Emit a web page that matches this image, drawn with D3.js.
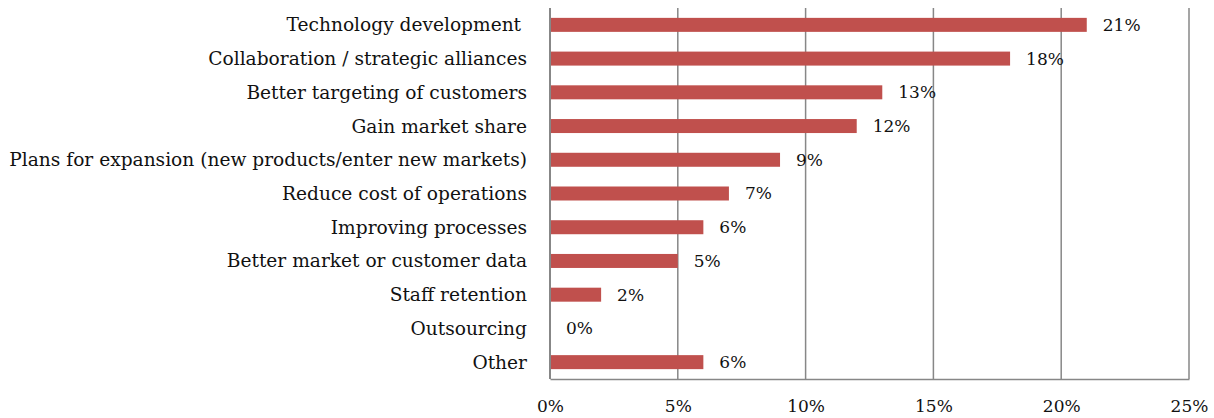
<!DOCTYPE html>
<html>
<head>
<meta charset="utf-8">
<script src="https://cdn.jsdelivr.net/npm/d3@7"></script>
<style>
  body { margin: 0; background: #fff; }
  svg text { font-family: "DejaVu Serif", "Liberation Serif", serif; fill: #111; white-space: pre; }
</style>
</head>
<body>
<div id="chart"></div>
<script>
// data
const categories = [
  'Technology development ',
  'Collaboration / strategic alliances',
  'Better targeting of customers',
  'Gain market share',
  'Plans for expansion (new products/enter new markets)',
  'Reduce cost of operations',
  'Improving processes',
  'Better market or customer data',
  'Staff retention',
  'Outsourcing',
  'Other'
];
const values = [21, 18, 13, 12, 9, 7, 6, 5, 2, 0, 6];
const xTicks = [0, 5, 10, 15, 20, 25];

const width = 1214, height = 418;
const margin = { top: 8, right: 25, bottom: 39, left: 550 };

const svg = d3.select('#chart').append('svg')
  .attr('width', width)
  .attr('height', height);

const x = d3.scaleLinear()
  .domain([0, 25])
  .range([margin.left, width - margin.right]);

const y = d3.scaleBand()
  .domain(categories)
  .range([margin.top, height - margin.bottom])
  .paddingInner(0.585)
  .paddingOuter(0.2925);

// gridlines
svg.append('g')
  .selectAll('line')
  .data(xTicks.slice(1))
  .enter().append('line')
  .attr('x1', d => x(d)).attr('x2', d => x(d))
  .attr('y1', margin.top).attr('y2', height - margin.bottom)
  .attr('stroke', '#878787')
  .attr('stroke-width', 1.5);

// bottom axis
const xAxis = d3.axisBottom(x)
  .tickValues(xTicks)
  .tickSize(0)
  .tickPadding(21)
  .tickFormat(d => d + '%');

const gx = svg.append('g')
  .attr('transform', 'translate(0,' + (height - margin.bottom) + ')')
  .call(xAxis);
gx.select('.domain').attr('stroke', '#878787').attr('stroke-width', 1.5);
gx.selectAll('text')
  .style('font-size', '17px')
  .attr('fill', '#111');

// left axis line
svg.append('line')
  .attr('x1', x(0)).attr('x2', x(0))
  .attr('y1', margin.top).attr('y2', height - margin.bottom)
  .attr('stroke', '#878787')
  .attr('stroke-width', 2);

// bars
svg.append('g')
  .selectAll('rect')
  .data(values)
  .enter().append('rect')
  .attr('x', x(0) + 1)
  .attr('y', (d, i) => y(categories[i]))
  .attr('width', d => Math.max(0, x(d) - x(0) - 1))
  .attr('height', y.bandwidth())
  .attr('fill', '#C0504D');

// value labels
svg.append('g')
  .selectAll('text')
  .data(values)
  .enter().append('text')
  .attr('x', d => x(d) + 16)
  .attr('y', (d, i) => y(categories[i]) + y.bandwidth() / 2)
  .attr('dy', '0.35em')
  .style('font-size', '17px')
  .text(d => d + '%');

// category labels
svg.append('g')
  .selectAll('text')
  .data(categories)
  .enter().append('text')
  .attr('x', 527)
  .attr('y', d => y(d) + y.bandwidth() / 2)
  .attr('dy', '0.35em')
  .attr('text-anchor', 'end')
  .style('font-size', '18.6px')
  .text(d => d);
</script>
</body>
</html>
